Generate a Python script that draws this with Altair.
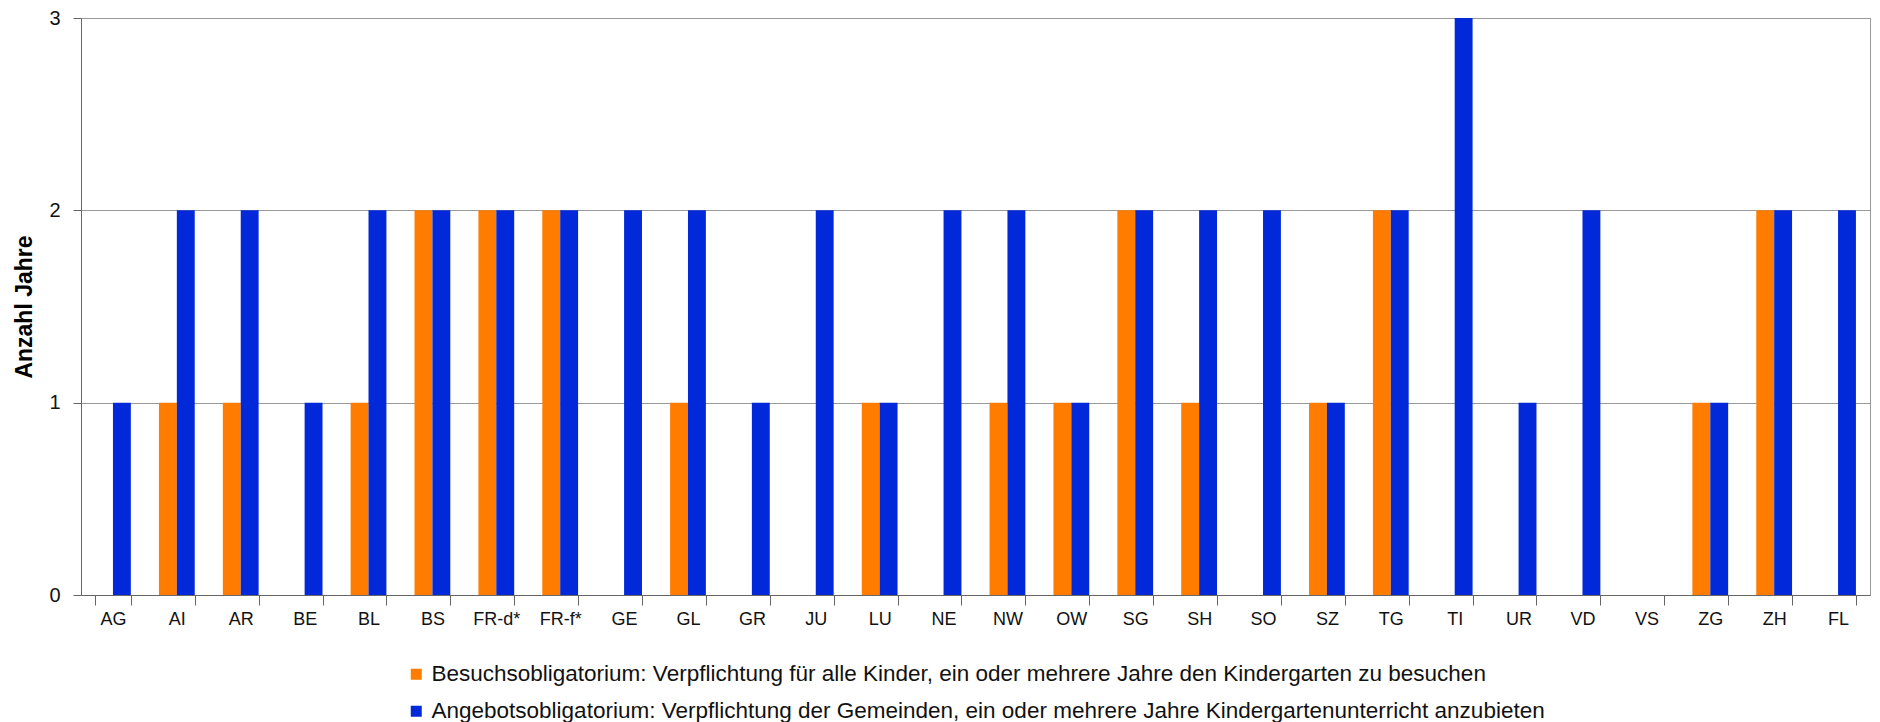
import altair as alt
import pandas as pd

cantons = ["AG", "AI", "AR", "BE", "BL", "BS", "FR-d*", "FR-f*", "GE", "GL", "GR", "JU",
           "LU", "NE", "NW", "OW", "SG", "SH", "SO", "SZ", "TG", "TI", "UR", "VD", "VS",
           "ZG", "ZH", "FL"]
besuch = [0, 1, 1, 0, 1, 2, 2, 2, 0, 1, 0, 0, 1, 0, 1, 1, 2, 1, 0, 1, 2, 0, 0, 0, 0, 1, 2, 0]
angebot = [1, 2, 2, 1, 2, 2, 2, 2, 2, 2, 1, 2, 1, 2, 2, 1, 2, 2, 2, 1, 2, 3, 1, 2, 0, 1, 2, 2]
series = [
    "Besuchsobligatorium: Verpflichtung für alle Kinder, ein oder mehrere Jahre den Kindergarten zu besuchen",
    "Angebotsobligatorium: Verpflichtung der Gemeinden, ein oder mehrere Jahre Kindergartenunterricht anzubieten",
]
colors = ["#FF7C00", "#0229D9"]

rows = []
for c, b, a in zip(cantons, besuch, angebot):
    rows.append({"Kanton": c, "Serie": series[0], "Jahre": b})
    rows.append({"Kanton": c, "Serie": series[1], "Jahre": a})
df = pd.DataFrame(rows)

FONT = "Liberation Sans"

chart = alt.Chart(df).mark_bar().encode(
    x=alt.X("Kanton:N", sort=cantons, title=None,
            scale=alt.Scale(paddingInner=0.44, paddingOuter=0.22),
            axis=alt.Axis(labelAngle=0, labelFontSize=18, labelFont=FONT, labelColor="#111",
                          tickBand="extent", tickSize=10, tickColor="#666",
                          domainColor="#666", labelPadding=5)),
    xOffset=alt.XOffset("Serie:N", sort=series, scale=alt.Scale(paddingInner=0, paddingOuter=0)),
    y=alt.Y("Jahre:Q", title="Anzahl Jahre",
            scale=alt.Scale(domain=[0, 3], nice=False),
            axis=alt.Axis(values=[0, 1, 2, 3], format="d", labelFontSize=20, labelFont=FONT,
                          labelColor="#111", tickSize=8, tickColor="#666", domainColor="#666",
                          gridColor="#999", labelPadding=13,
                          titleFont=FONT, titleFontSize=23, titleFontWeight="bold",
                          titleColor="#000", titlePadding=12)),
    color=alt.Color("Serie:N", sort=series, scale=alt.Scale(domain=series, range=colors),
                    legend=alt.Legend(title=None, orient="none", legendX=324, legendY=645,
                                      direction="vertical", symbolType="square", symbolSize=121,
                                      symbolStrokeWidth=0, labelFont=FONT, labelFontSize=22.5,
                                      labelColor="#111", labelLimit=2000, rowPadding=14,
                                      symbolOffset=0, labelOffset=4)),
).properties(
    width=1789, height=577,
    autosize=alt.AutoSizeParams(type="none"),
    padding={"left": 73, "top": 10, "right": 2, "bottom": 127},
).configure_view(stroke="#999")

chart.save("out.html", embed_options={"renderer": "svg", "actions": False})
